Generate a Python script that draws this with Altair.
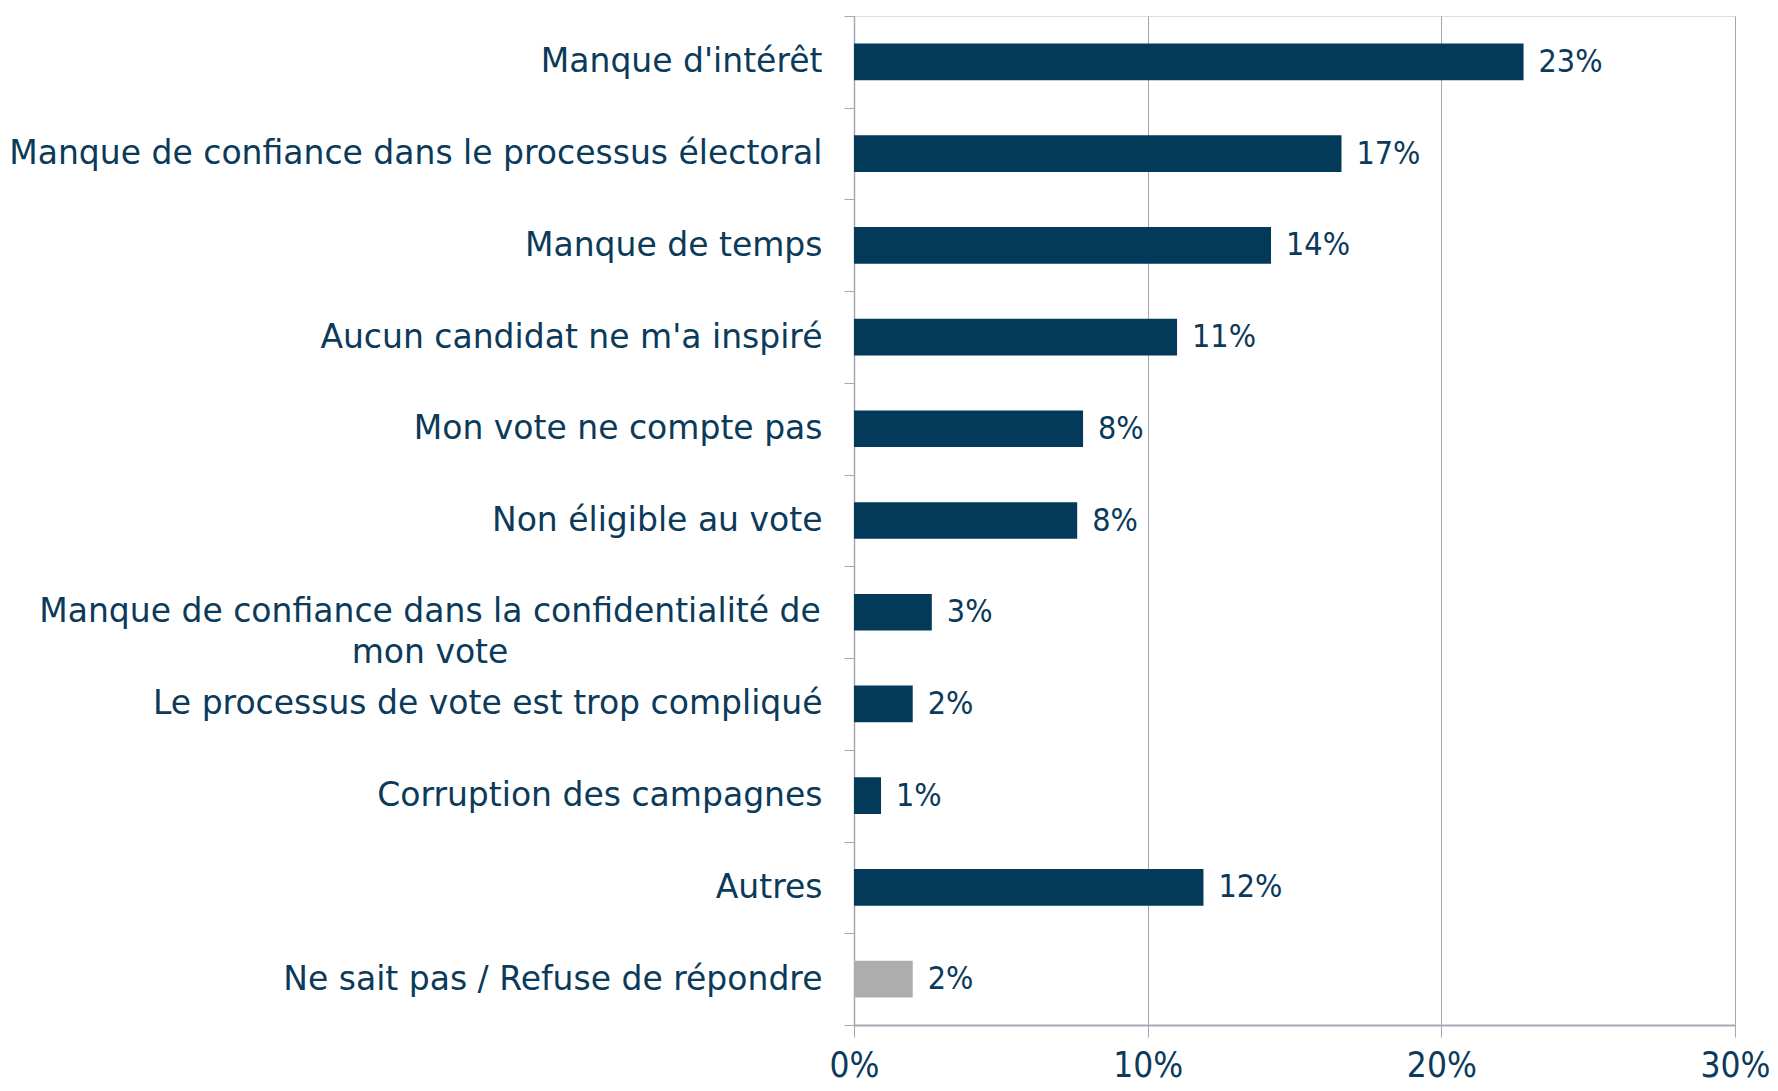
import altair as alt
import pandas as pd

categories = [
    "Manque d'intérêt",
    "Manque de confiance dans le processus électoral",
    "Manque de temps",
    "Aucun candidat ne m'a inspiré",
    "Mon vote ne compte pas",
    "Non éligible au vote",
    "Manque de confiance dans la confidentialité de|mon vote",
    "Le processus de vote est trop compliqué",
    "Corruption des campagnes",
    "Autres",
    "Ne sait pas / Refuse de répondre",
]
values = [22.8, 16.6, 14.2, 11.0, 7.8, 7.6, 2.65, 2.0, 0.92, 11.9, 2.0]
value_labels = ["23%", "17%", "14%", "11%", "8%", "8%", "3%", "2%", "1%", "12%", "2%"]
bar_colors = ["#033A5A"] * 10 + ["#ADADAD"]
x_ticks = [0, 10, 20, 30]

NAVY = "#0B3A5A"
AXIS_GREY = "#A6A9B4"
FONT = "DejaVu Sans"
NUM_FONT = "DejaVu Sans Condensed, DejaVu Sans"
LABEL_SIZE = 33

df = pd.DataFrame({
    "cat": categories,
    "val": values,
    "lab": value_labels,
    "col": bar_colors,
})
df["multi"] = df["cat"].str.contains("|", regex=False)

label_expr = "indexof(datum.label, '|') >= 0 ? '' : datum.label"

y_enc = alt.Y(
    "cat:N",
    sort=None,
    scale=alt.Scale(paddingInner=0, paddingOuter=0),
    axis=alt.Axis(
        title=None,
        tickBand="extent",
        tickSize=10,
        tickColor=AXIS_GREY,
        domainColor=AXIS_GREY,
        domainWidth=1.5,
        labelFont=FONT,
        labelFontSize=LABEL_SIZE,
        labelColor=NAVY,
        labelPadding=22,
        labelLimit=1000,
        labelExpr=label_expr,
        grid=False,
    ),
)

x_enc = alt.X(
    "val:Q",
    scale=alt.Scale(domain=[0, 30], nice=False),
    axis=alt.Axis(
        title=None,
        values=x_ticks,
        labelExpr="datum.value + '%'",
        tickSize=12,
        tickColor=AXIS_GREY,
        domainColor=AXIS_GREY,
        domainWidth=2,
        labelFont=NUM_FONT,
        labelFontSize=35,
        labelColor=NAVY,
        labelPadding=11,
        labelFlush=False,
        grid=True,
        gridColor="#A3A6B2",
        gridWidth=1,
    ),
)

bars = alt.Chart(df).mark_bar(height=alt.RelativeBandSize(0.4)).encode(
    x=x_enc,
    y=y_enc,
    color=alt.Color("col:N", scale=None, legend=None),
)

texts = alt.Chart(df).mark_text(
    align="left", baseline="middle", dx=15, font=NUM_FONT, fontSize=32, color=NAVY
).encode(
    x=alt.X("val:Q"),
    y=alt.Y("cat:N", sort=None),
    text="lab:N",
)

# two-line category label, centred like the reference
multi_label = alt.Chart(df).transform_filter("datum.multi").mark_text(
    align="center", baseline="middle", lineBreak="|", lineHeight=41,
    font=FONT, fontSize=LABEL_SIZE, color=NAVY,
).encode(
    x=alt.value(-424),
    y=alt.Y("cat:N", sort=None),
    text="cat:N",
)

chart = (
    alt.layer(bars, texts, multi_label)
    .properties(
        width=1762,
        height=1075,
        padding={"left": 0, "top": -8, "right": 0, "bottom": 0},
        autosize=alt.AutoSizeParams(type="fit", contains="padding"),
    )
    .configure_view(stroke=None)
    .configure(background="white")
)

chart.save("out.html", embed_options={"renderer": "svg", "actions": False})
